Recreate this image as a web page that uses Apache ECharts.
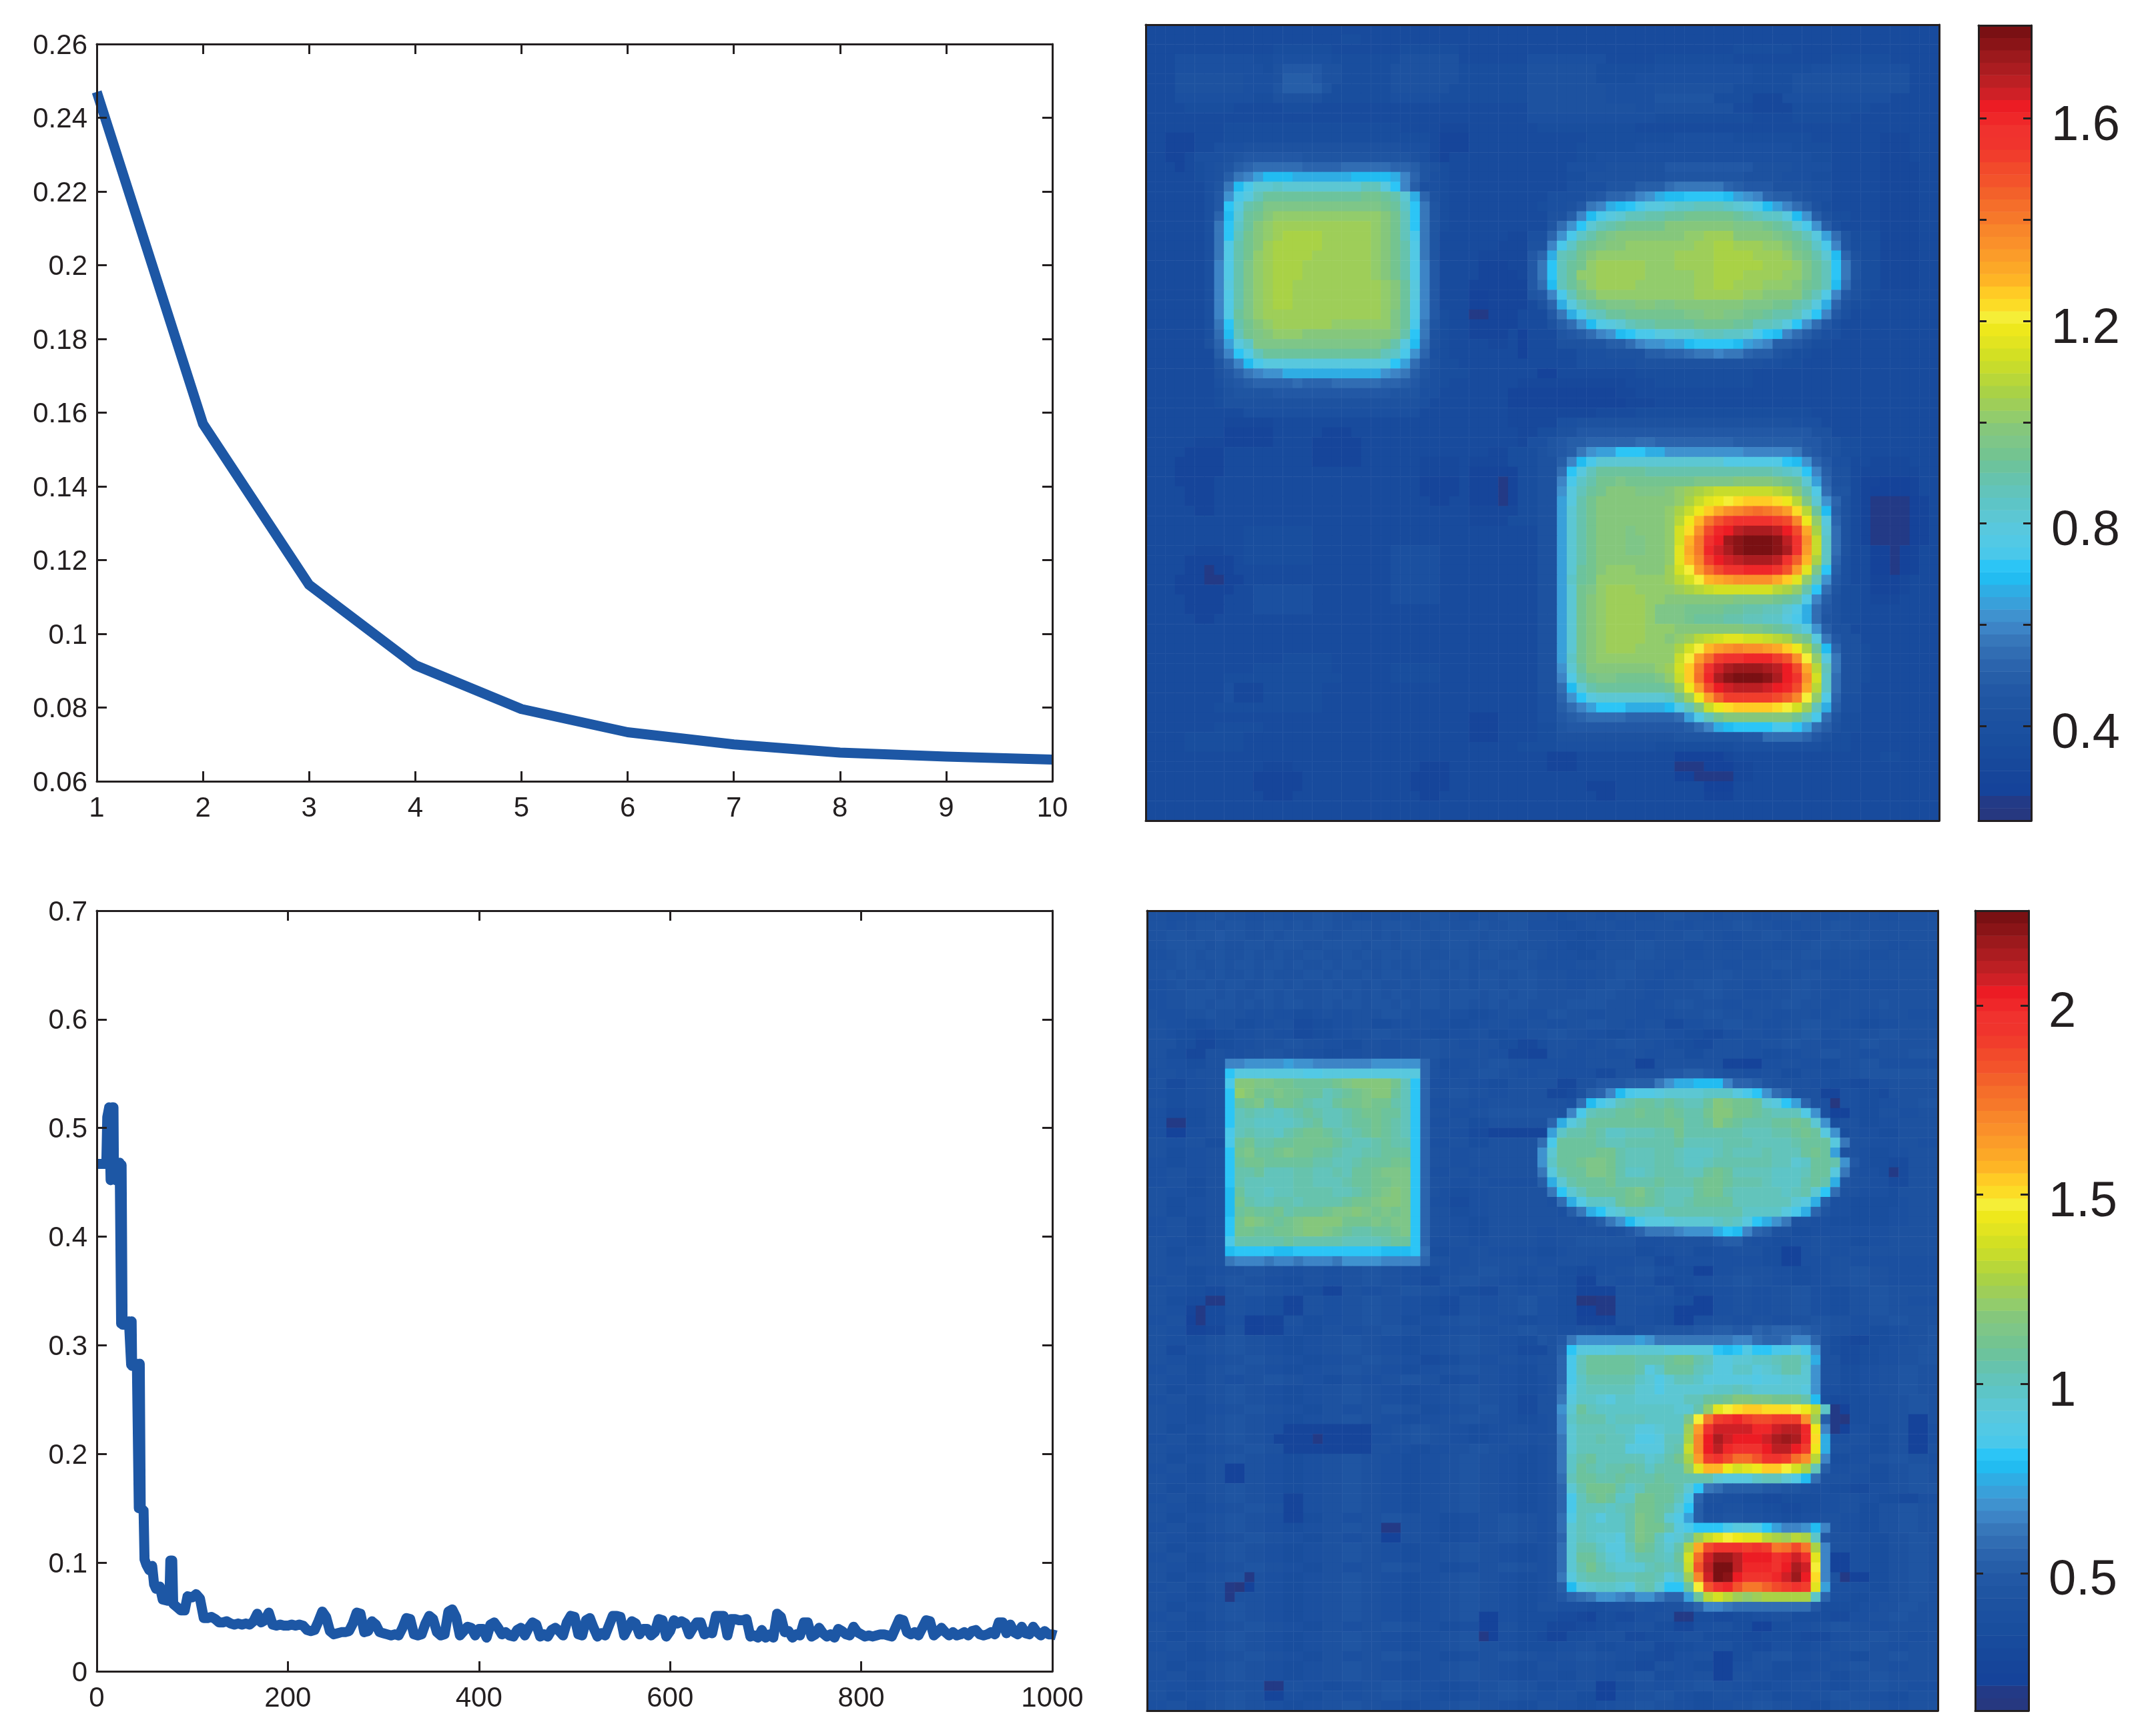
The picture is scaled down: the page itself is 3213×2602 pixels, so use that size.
<!DOCTYPE html>
<html>
<head>
<meta charset="utf-8">
<title>Reconstruction error and recovered maps</title>
<script src="https://cdn.jsdelivr.net/npm/echarts@6/dist/echarts.min.js"></script>
<style>
  html, body { margin: 0; padding: 0; background: #fff; }
  #chart { width: 3213px; height: 2602px; }
</style>
</head>
<body>
<div id="chart"></div>
<script>
// top left curve
const outerX = [1, 2, 3, 4, 5, 6, 7, 8, 9, 10];
const outerY = [0.247, 0.157, 0.1133, 0.0915, 0.0796, 0.0733, 0.07, 0.0678, 0.0667, 0.0659];

// bottom left curve, the first part has uneven steps
const iterHeadX = [0, 10, 11, 13, 14.5, 16, 17.5, 18, 20, 23, 24, 25, 25.5, 26, 27, 30, 33.7, 35, 36, 36.5, 37, 40, 42, 44, 45, 46, 47, 49, 50, 52, 55, 58, 60, 62, 66, 69, 74, 76, 77, 79, 80, 84, 88, 92, 95, 100, 104, 108, 112, 116, 120, 124, 128, 132, 136];
const iterHeadY = [0.467, 0.467, 0.51, 0.519, 0.452, 0.519, 0.519, 0.455, 0.452, 0.46, 0.468, 0.468, 0.32, 0.466, 0.319, 0.319, 0.322, 0.322, 0.282, 0.322, 0.281, 0.283, 0.283, 0.15, 0.283, 0.15, 0.15, 0.148, 0.103, 0.098, 0.093, 0.097, 0.08, 0.076, 0.078, 0.066, 0.065, 0.065, 0.102, 0.102, 0.062, 0.059, 0.056, 0.056, 0.069, 0.068, 0.071, 0.067, 0.049, 0.049, 0.05, 0.048, 0.045, 0.045, 0.046];
// after that one reading every 4 iterations, from 140 to 1000
const iterTailStart = 140;
const iterTailStep = 4;
const iterTailY = [
  0.044, 0.043, 0.044, 0.043, 0.044, 0.043, 0.046, 0.053, 0.045, 0.047, 0.054, 0.043, 0.042, 0.043, 0.042, 0.042,
  0.043, 0.042, 0.043, 0.042, 0.038, 0.037, 0.038, 0.046, 0.055, 0.05, 0.037, 0.034, 0.035, 0.036, 0.036, 0.037,
  0.044, 0.054, 0.053, 0.036, 0.037, 0.046, 0.043, 0.036, 0.035, 0.034, 0.033, 0.034, 0.033, 0.04, 0.049, 0.048,
  0.034, 0.033, 0.034, 0.044, 0.051, 0.048, 0.036, 0.033, 0.034, 0.055, 0.057, 0.05, 0.033, 0.037, 0.041, 0.04,
  0.033, 0.039, 0.039, 0.031, 0.043, 0.045, 0.04, 0.034, 0.036, 0.033, 0.032, 0.038, 0.04, 0.033, 0.04, 0.045,
  0.043, 0.032, 0.034, 0.032, 0.038, 0.04, 0.037, 0.033, 0.045, 0.051, 0.05, 0.034, 0.033, 0.047, 0.049, 0.04,
  0.032, 0.035, 0.033, 0.042, 0.051, 0.051, 0.05, 0.033, 0.04, 0.046, 0.044, 0.034, 0.039, 0.039, 0.033, 0.036,
  0.048, 0.047, 0.032, 0.037, 0.047, 0.044, 0.046, 0.044, 0.034, 0.04, 0.045, 0.045, 0.034, 0.036, 0.035, 0.051,
  0.051, 0.051, 0.033, 0.048, 0.048, 0.047, 0.047, 0.048, 0.032, 0.033, 0.031, 0.038, 0.031, 0.034, 0.031, 0.053,
  0.05, 0.036, 0.037, 0.031, 0.034, 0.033, 0.045, 0.045, 0.032, 0.034, 0.04, 0.035, 0.032, 0.034, 0.031, 0.039,
  0.037, 0.034, 0.033, 0.041, 0.036, 0.034, 0.032, 0.033, 0.032, 0.033, 0.034, 0.034, 0.033, 0.032, 0.04, 0.048,
  0.047, 0.036, 0.034, 0.036, 0.033, 0.04, 0.047, 0.046, 0.033, 0.036, 0.04, 0.036, 0.033, 0.036, 0.033, 0.034,
  0.036, 0.033, 0.037, 0.038, 0.034, 0.033, 0.034, 0.036, 0.034, 0.045, 0.045, 0.035, 0.043, 0.036, 0.034, 0.041,
  0.035, 0.034, 0.041, 0.036, 0.033, 0.037, 0.034, 0.034, 0.033
];

// colour bars
const barTicksA = [0.4, 0.6, 0.8, 1, 1.2, 1.4, 1.6];
const barLabelsA = [0.4, 0.8, 1.2, 1.6];
const barTicksB = [0.5, 1, 1.5, 2];
const barLabelsB = [0.5, 1, 1.5, 2];
const barRangeA = [0.213, 1.784];
const barRangeB = [0.137, 2.25];

// 64 steps of the colour map, lowest first
const palette = [
  '#263880', '#233a86', '#15439a', '#16459a', '#17489b', '#184b9d', '#194e9e', '#1b50a0',
  '#1d52a0', '#1f55a2', '#2258a5', '#265ea8', '#2b64ad', '#316db3', '#3777ba', '#3d84c6',
  '#3f92cf', '#39a0da', '#2fade4', '#22bcf1', '#2cc5f6', '#4ac8ea', '#52c9e5', '#58c8de',
  '#5cc7d3', '#5dc5c7', '#62c4bb', '#66c3ad', '#6cc39d', '#74c490', '#7ec688', '#85c77c',
  '#92cc6c', '#9ece59', '#a9d246', '#b8d739', '#c7dc2c', '#d3e023', '#e2e420', '#eee81c',
  '#f5ee37', '#fcdc26', '#ffcb25', '#feb525', '#fca827', '#fb9c29', '#fa902a', '#f8862a',
  '#f6782a', '#f56e2a', '#f3612a', '#f3532b', '#f24a2b', '#f13d2c', '#f0342d', '#f0322e',
  '#ef2729', '#ec1c24', '#cf2026', '#bc1f23', '#ab1c20', '#9c191c', '#8a1417', '#7a1013'
];
// one letter per colour step
const levelCodes = '0123456789abcdefghijklmnopqrstuvwxyzABCDEFGHIJKLMNOPQRSTUVWXYZ*#';

// maps, 81 x 81 cells, top row first.
// letters are colour steps, "@n " jumps to column n and repeats the last letter up to it
const mapRowsA = [
  '5',
  '5@20 6@22 5',
  '5@13 6@19 5@26 6@32 5@60 6@66 5',
  '5@3 7@11 6@13 7@19 6@26 8@32 5@39 7@47 5@52 6@60 5@70 6@76 5',
  '5@3 7@12 6@13 8@14 a@18 8@20 6@25 8@32 6@39 8@46 6@52 7@62 6@68 7@78 5',
  '5@3 8@10 7@13 8@14 b@17 a@18 8@20 6@25 8@32 6@39 8@46 6@50 7@62 6@66 8@78 5',
  '5@3 8@10 7@13 9@14 b@18 9@19 6@25 8@31 6@39 8@47 7@52 8@60 6@66 8@78 5',
  '5@3 7@11 6@13 8@18 6@25 7@30 6@39 8@47 7@52 9@58 6@62 4@65 7@76 5',
  '5@4 6@9 5@14 6@17 5@39 8@50 7@52 8@60 5@62 4@66 6@74 5',
  '5@39 7@52 6@62 5@66 6@72 5',
  '5@8 6@26 5@30 4@33 5@40 6@50 5',
  '5@2 3@5 5@8 6@29 5@30 3@33 5@45 6@54 7@60 6@68 5@75 4@78 5',
  '5@2 3@5 5@7 7@10 8@26 7@29 5@30 3@33 5@44 6@50 7@66 6@70 5@75 4@78 5',
  '5@2 3@4 5@5 7@8 8@9 9@10 a@16 9@27 8@28 7@29 5@30 3@31 5@44 6@46 7@68 6@70 5@75 4@78 5',
  '5@3 3@4 5@5 6@6 789bc@11 d@16 c@20 d@25 c@27 b986@31 5@43 7@47 8@53 a@62 8@66 7@70 5@75 4@79 5',
  '5@5 678befh@12 j@15 i@21 j@25 ifc97@30 6@31 5@43 6@45 8@53 9@61 8@65 7@68 6@70 5@75 4@79 5',
  '5@6 79ejlo@13 p@14 o@22 q@24 nkfb7@30 6@31 5@43 7@47 9@50 b@53 de@59 cb@61 a@64 8@68 7@70 5@75 4@79 5',
  '5@6 7aglnq@12 s@22 t@24 sroic86@31 5@41 7@45 9accdfgi@53 j@55 k@59 jhgfc@64 b@66 98@68 7@70 5@75 4@79 5',
  '5@6 7aknrs@12 u@24 tspke96@31 5@40 6@41 7@43 8aefijkl@51 n@53 o@54 p@56 q@59 ponljhfdb86@70 5@75 4@79 5',
  '5@6 7cjostv@13 w@24 vtqke9@30 6@31 5@41 88bfjlno@49 q@51 r@53 s@55 t@60 srq@63 p@65 njgb8@70 6@72 5@75 4@79 5',
  '5@6 7ekpsvw@13 x@23 wvtqke9@30 6@31 5@41 9dgkoqrst@53 v@60 u@63 tsrolgb7@71 5@75 4@79 5',
  '5@6 7ekqtvwx@14 y@18 x@23 wvtqle9@30 5@37 4@39 7@41 cglprtu@48 v@55 w@57 x@60 v@64 utsqnhd9@72 6@75 4@79 5',
  '5@6 7emrtvx@13 y@18 x@23 wvtrme9@30 5@36 4@39 8@41 flpstu@47 v@49 w@56 x@58 y@60 x@63 w@65 vtsplf9@72 6@75 4@79 5',
  '5@6 7emrtwx@13 y@17 x@23 wvtrme9@30 5@34 4@39 a@40 ciqrtv@46 w@54 x@58 y@62 x@65 wutrojc8@73 6@75 4@79 5',
  '5@6 7fmruwx@13 y@16 x@23 wvtrmfa@30 5@34 3@37 4@39 a@40 ekqstw@46 x@51 w@54 x@58 y@63 x@66 wusqke9@73 6@75 4@79 5',
  '5@6 7fmruwx@13 y@16 x@23 wvtrmfa@30 5@34 3@38 4@39 a@40 ekqsww@46 x@51 w@56 x@58 y@61 x@65 wwusqke9@73 6@75 4@79 5',
  '5@6 7fnruwx@13 y@15 x@24 wvsnfa@30 5@33 3@39 a@40 djqsuw@46 x@50 w@56 x@58 y@60 x@63 w@66 vtsqjd8@73 6@75 4@79 5',
  '5@6 7fmruwx@13 y@15 x@24 wvsnfa@30 5@33 2@35 3@39 9@40 aflqtuw@56 x@61 w@63 v@67 sqmfa8@73 6@74 5',
  '5@6 7fmruwx@13 y@15 x@24 wvsmfa@30 5@33 2@35 3@39 5@40 8cinqst@47 u@50 v@52 u@54 v@61 u@64 t@66 rqnic8@72 6@74 5',
  '5@6 7fmsuw@12 x@24 wusmfa@30 6@31 5@33 1@35 3@38 5@41 aeilpqs@49 t@55 u@57 v@59 u@61 t@63 s@64 r@66 qnkfa7@72 5',
  '5@6 7ekrtvw@13 x@19 w@25 usle9@30 6@31 5@33 3@38 5@41 8bdgjmno@49 q@50 r@52 s@56 t@60 s@62 q@64 pnkgda@70 7@71 5',
  '5@6 7djqtuv@13 w@16 v@25 urke8@30 6@31 5@33 3@37 5@38 2@39 5@42 9abdfgjk@50 l@52 n@54 o@56 p@57 q@59 p@61 olkjfdb9@69 7@71 5',
  '5@6 8chnp@11 u@24 trnjd8@30 6@31 5@35 4@37 5@38 2@39 5@42 8@45 9@47 bbdfgg@53 h@55 j@56 k@60 jhgf@64 b@66 a8@68 6@70 5',
  '5@7 bfkmq@12 s@24 qplgc7@30 6@31 5@38 2@39 5@44 7@47 8@51 b@53 c@55 d@56 e@58 f@59 e@61 c@62 b@64 98@66 6@68 5',
  '5@7 9cfjl@12 n@25 khda8@30 6@32 5@44 7@50 8@63 7@65 6@67 5',
  '5@7 8acef@12 g@14 i@24 gfeb97@30 6@33 5@40 2@42 5@50 6@62 5',
  '5@7 79ab@11 c@15 d@16 c@19 d@24 c@26 ba87@30 6@31 5@38 4@49 5@52 6@62 5',
  '5@7 68@9 9@13 a@25 9@28 7@30 5@37 3@48 4@50 5',
  '5@7 6@8 8@28 7@29 5@37 3@49 4@52 5',
  '5@10 7@28 5@37 4@46 5@50 6@68 5',
  '5@8 4@13 5@37 4@42 7@44 8@66 7@69 5',
  '5@8 3@13 5@18 3@21 5@38 4@40 6@42 8@44 a@68 8@70 5',
  '5@5 4@8 3@13 5@17 3@22 5@38 4@39 7@41 9@42 a@43 b@45 c@50 d@52 c@60 b@67 a@69 8@71 6@73 5',
  '5@4 3@8 5@17 3@22 5@35 4@37 6@40 8@41 9@42 a@43 b@44 e@45 g@46 h@48 k@51 i@53 g@61 f@66 e@67 b@68 a@69 8@71 6@73 5',
  '5@3 3@8 5@17 3@22 5@28 4@32 5@33 4@37 6@40 8@42 bfjl@46 o@59 m@65 k@66 jgca@70 7@72 5@74 4@78 5',
  '5@3 3@8 5@28 4@32 5@33 3@38 6@40 8@42 dknq@46 s@51 r@64 qpokfb@70 8@72 5@73 4@79 5',
  '5@3 3@7 5@28 3@32 5@33 3@36 1@37 3@38 6@40 8@42 flpr@46 t@48 u@49 t@56 u@60 v@64 utsohc@70 8@72 5@73 3@75 2@78 3@79 5',
  '5@4 3@7 5@28 3@32 5@33 3@36 1@37 3@38 6@40 8@42 gnqs@46 t@47 v@50 u@53 vwxyz@58 A@64 zyvrmd@70 9@72 5@73 3@74 2@78 3@79 5',
  '5@4 3@7 5@29 3@31 5@33 3@36 1@37 3@38 6@40 8@42 hnrt@46 v@54 wyACDEF@61 G@64 FDzuogc@71 8@72 5@73 3@74 1@78 2@79 3@80 5',
  '5@5 3@7 5@33 4@38 6@40 8@42 hort@46 v@53 wyADGIKLMNMLJFzsjb@71 8@72 5@73 3@74 1@78 2@79 3@80 5',
  '5@33 4@37 6@40 8@42 hort@46 v@53 wzDHMPR@60 T@64 RQLDwnc@71 8@72 5@73 3@74 1@78 2@79 3@80 5',
  '5@10 6@17 5@40 8@42 hort@46 v@49 u@50 v@53 wBFKQUVX@61 Y@64 XVQIyod@71 8@72 5@73 3@74 1@78 2@79 3@80 5',
  '5@10 6@17 5@40 8@42 hort@46 v@49 u@51 v@53 wBHMTVZ*@61 #@64 *XTKApd@71 8@72 5@73 3@74 1@78 2@79 3@80 5',
  '5@5 4@8 5@10 6@17 5@25 7@30 5@40 8@42 hort@46 v@49 u@51 v@53 wCIMUWY*@61 #@64 *YTJApd@71 8@72 5@74 2@76 1@77 2@78 3@79 5',
  '5@4 3@9 5@10 6@17 5@25 7@30 5@40 8@42 hort@46 v@53 wCHLRVWX@61 Y@64 XTOHypc@71 7@72 5@74 2@76 1@77 2@78 3@79 5',
  '5@4 3@6 1@7 3@9 5@25 7@30 5@40 8@42 host@46 v@47 w@50 v@53 xBEJNQST@61 U@64 SPJCukb@71 7@72 5@74 2@76 1@77 2@78 3@79 5',
  '5@3 3@6 1@8 3@10 5@25 7@30 5@40 8@42 hpst@46 w@53 xzBEHIJK@64 IGCwqga@71 7@72 5@74 3@77 4@78 5',
  '5@3 3@9 5@11 7@17 5@25 7@30 5@40 8@42 hotu@46 w@47 x@50 w@53 wxyzA@58 B@64 zywrkd9@71 6@73 5@74 3@77 4@78 5',
  '5@4 3@8 5@11 7@17 5@25 7@30 5@40 8@42 hotv@46 w@47 x@51 w@53 v@60 u@64 tsrmfb@70 8@71 6@73 5@74 4@77 5',
  '5@4 3@8 5@11 7@17 5@40 8@42 hotv@46 w@47 x@51 w@52 u@55 t@59 s@61 r@63 q@65 omida@70 8@71 6@73 5',
  '5@5 3@7 5@40 8@42 hotv@46 w@47 x@51 w@52 u@55 t@56 s@59 r@61 q@63 p@65 nlid9@70 8@71 6@73 5',
  '5@40 8@42 hotv@46 w@47 x@51 w@54 v@61 u@63 tsrpngb@70 8@72 5',
  '5@40 8@42 hotv@46 w@47 x@51 w@53 vwxzABCCBBAzyvtnea@71 8@73 5',
  '5@40 8@42 hotv@46 w@47 x@50 w@54 yBEHJKLKKJIGDysjc@71 8@73 6@74 5',
  '5@14 6@19 5@40 8@42 hptv@46 w@54 AEJNRT@61 U@64 RPKEwne@71 8@73 6@74 5',
  '5@11 6@19 5@25 6@30 5@40 8@42 gosv@52 w@53 xBGMTWY@60 Z@63 YXVQIzqe@71 8@73 6@74 5',
  '5@8 6@20 5@25 6@30 5@40 8@42 fmrt@46 u@48 t@52 uwAGNUY*@60 #@63 *YVSKBpd@71 8@73 6@74 5',
  '5@8 7@9 4@12 6@18 5@40 8@42 djor@46 s@53 txDJQVW@60 X@63 WVUQIzpd@71 8@73 5',
  '5@8 7@9 4@12 6@18 5@40 7@42 cgkn@46 o@53 ptxDJO@59 R@64 QOLEwmc@71 7@73 5',
  '5@7 6@18 5@40 7@42 bdfh@46 k@49 i@53 jmqvADF@60 G@64 FEBxqib@71 7@73 5',
  '5@33 3@36 5@40 7@42 abc@45 d@49 c@54 dhmqt@59 v@66 tqld9@71 6@73 5',
  '5@7 6@12 5@33 3@36 5@40 6@42 9@43 a@54 abdfij@60 k@64 l@66 khdb8@71 6@73 5',
  '5@4 6@10 5@33 3@36 5@40 6@42 8@54 9@61 a@63 d@67 ca8@70 6@72 5',
  '5@4 6@10 5@38 6@42 7@52 6@60 7@69 6@72 5',
  '5@41 3@44 5@54 2@59 4@60 5@75 6@77 5',
  '5@12 4@15 5@28 3@31 5@41 3@44 5@54 1@57 2@60 4@62 5',
  '5@11 3@16 5@27 3@31 5@54 2@56 1@60 4@62 5',
  '5@11 3@16 5@27 3@31 5@45 3@48 5@57 2@60 5',
  '5@12 3@15 5@28 3@30 5@46 3@48 5@57 3@60 5',
  '5',
  '5'
];

const mapRowsB = [
  '8877788988778878899887788788998877889998877888778877899887788877889887788887788',
  '8878899899889989899889989998899889988997776678887788887788889988777888998888888',
  '8899899a99889899998899989899989999899998887766778877888998877889988779988988888',
  '8899998988998999889999899899989998899988877667788899888778877888778899899988778',
  '7789989988988988998898989989888998998899877766888899888778888778888998888777888',
  '8889988989989989889899889889899898889998777788889988877888877888998877788888888',
  '8898998988989888998988989988988998998899888777889988778888998888788998877788888',
  '7789889899889989889899898898998898998999888778899887788899988778889988778777788',
  '7788999898899898889989898988998999899899888889998887788889988777889988778888888',
  '7788998998989899889899899898998998898998888999988877889988877888899887788889888',
  '8777889888778776678778889988778776678887799887788877778889988788778877888778887',
  '8877667886677885566778866778877667788778877889988778855778899887788998877667788',
  '8876655667788775566778899887766778866778899887766778877665577887788997788889988',
  '8886644667788899887766887788998877886644688877889988776655888778899887788998888',
  '8866448877889988776677887788998888877443388778877887788668888776677889988778889',
  '88776688@8 ffgggghggffffffgggggf@28 c867788998877@43 7788@50 33@52 8888@59 3322@63 77887766889977',
  '7887788@8 knnnnnnnmmnnnnnnnnnnk@28 c8778899887@40 8877@46 55@48 88@53 aabba9@59 8877886688778899',
  '8855778@8 lvvuuttsssstuvvvvtqk@28 c7788776688@42 4488aaabbbegiijjjfccb9@64 8888776655778888',
  '7766778@8 kwvttuttssqrstuvvsqk@28 c889988778@41 4458bcfjlmmnoooopppnlkgdc8@67 88@69 33@71 7766588888',
  '8866778@8 ksturttsrqqsttuttrqk@28 c77887788@43 7djlnqrssrsrqqsvuttsonkhc8@69 7@70 0@71 7766@75 7788998',
  '7755668@8 kqrqqpqrsrqqrsttssqk@28 c88778899@42 8flqrrsstsstsrrtvvttsrqqqmg7@70 22@72 766@75 8877888',
  '7711668@8 kqqppppqrsqqrsstsrqk@28 c77886688@41 cinpssssssssttrrsvtsrrrsstsog6@71 8866@75 7788888',
  '7722778@8 lqrqqprsttsrqrstsrqk@28 c88775533@41 hprrsrppqqqrrtrrrrrrqqqrrstsng6@72 877@75 668888',
  '8877886@8 lstrrssttttsrqqrsrrk@28 c7788668@40 dlssssrqqrrrrrsqqqqrrrqqqqrsssne@72 8877@75 77887',
  '8866778@8 ktusstuttssrqqrrsssk@28 c88778@37 88@40 gossssttrqqqrrqpppqrqqqrqqqstsh@71 8@72 8766@76 7788',
  '7766778@8 ksttsssssrrqqrsssttk@28 c887788@38 88@40 gpsstuutrqqqrrqppqrrrrrrqqopssrg@72 a766@76 5588',
  '7788778@8 krrsqqqrrqqrqsstuuuk@28 c77887788@40 enrssuutrppqrrrqqstsqqqqpppqssne@72 8776@76 1588',
  '7788668@8 krqqqqqrrqqqrssttuuk@28 c8877887@40 biorssstrrrrsrrrsttsrrrqppprsri9@72 8877@76 5588',
  '8877668@8 jsqqpqqrrrrqqrstuvuk@28 c8766778@41 ekoqsssstusrqqqsttrqqqqqpqrokd@71 8877@76 6888',
  '8866778@8 jtrqqrrqrrrrsttuvvuk@28 c7755778@41 7dimpppsttsrqqrssssqqqqqqonib@70 7766@76 6788',
  '8866778@8 jstsstrssstuuvututuk@28 c8866778@42 7beiknoqqpprrrrrrrrppppnlic@69 97766@76 7788',
  '7788668@8 ktvutstuvvvvtttutuuk@28 c8877668@44 79begjlnnnoooopqpnkige8@67 87766@76 7788',
  '7788668@8 kttssttuvvutsrrsstuk@28 c8877668@40 7788@47 78aceeefgggikjfcb8@65 86677@74 778888',
  '8877668@8 lrrrrrsrrrrrqqqqrssk@28 c7788778@40 77889@50 777@53 88888@58 abb8@62 7766778877667788888',
  '8866778@8 jkkkkjjkkkkkkkkkjjjk@28 d6677887@40 66788@50 667788@56 66778@61 8866227887788',
  '8877888@8 efffeffefffeggggffff@28 c8877888@40 7788877@50 88@52 5577@60 7776622777887',
  '8877667788998877887788998877667788998877886655778899776622778888776677889988777',
  '7788668899887766887788998877558899887766776633887788556677889988776677889988777',
  '8877665588998877663388778899887766558877886633338877885566778877889977668899888',
  '8866551188776633887788998877665588778899776600118888776622778877889977668899887',
  '8877315588776633887788998877665588778899776622118877662222778877889977668899888',
  '7788215577223388667788998866778899887766776633338877662277887788778899887788998',
  '8877334488223377668877889988667788778899887788776688999@55 9aabbaacbcccba9887766778899',
  '8877668899887766778899887766778899887766@40 98@42 aegggggghgeeeeeeeeffdccdffc8@69 8654466778899',
  '8855778899887766778899887766778899887755@40 58bknnnnooooonnnnnkjkmkkllnlg@69 8655667788998',
  '8877667788998877667788998877556688778877@40 88clqsssssrrrsttrqnnooppqrrpi@69 8855667788998',
  '7788668899887766778899887766778899887766@40 88clqsssssrnpsssqpnnppnoprrog@69 8866778899888',
  '8877668877889988776688778899886677887766@40 78clprrrrrpomoqqpnnnnnmnnooog@69 8866778899887',
  '8866778899887766778899887766778899887766@40 78dmpqqqqqoomoooooppqpooooong@69 7766778899888',
  '7788668899887766778899887766778899887755@40 88enpponppoooooqqsstvvuutttrj6@70 5566778899888',
  '8877667788998877668877889988667788997755@40 88gosqppppppppoorwCEFGGFFFEDzpa@70 1266778899888',
  '8877668899887766778899887766778899887766@40 78fprrrpqqqppppuEMRSURQQRRRKxb@70 1066778822888',
  '8866778899887733333333377889988776677887@40 78foqqqqppnnoppxJTWWWWUUWXXUDf@70 1277668822778',
  '7788668899887333313333377889988776677887@40 88eoqqrqqpmmnqqyLVYWVVVWYZYUFi@70 7788668822778',
  '8877667788998833333333388776677889988776@40 78eoqqqqqnnnnqrALVXUTTTVXXVRDi@70 8877668822887',
  '8866778899887766778899887766778899887766@40 78eprsqqqqqoprtyJRTQNNPSTRNKzf@70 6677889988778',
  '7788668822887766778899887766778899887766@40 78epsrqrrsrprrrwCHHDBCDGGEByqb@70 7788668899888',
  '8877668822887766778899887766778899887766@40 78dqssrrsrrrsrrrrronnnpqqomjd8@70 8877668899888',
  '8866778899887766778899887766778899887766@40 78cortttrpqsssr@55 okedbbbbaa999@67 8776655778899',
  '7788668899887733778899887766778899887766@40 78clqsts@48 ppttssqlc8877665566@69 7788776655778',
  '8877667788998833778899887766778899887766@40 78clqqqpqrttsrokb7788776655667@69 7788668899888',
  '8866778899887733668877889988776677889988@40 78dmqpnpprutsomhb8899887766778@69 8877668899888',
  '7788668899887766778899881188776677889988@40 78doqppppruttrnlkkklnnmkhffgjf8@70 877668899888',
  '8877667788998877668877882288776677889988@40 78coqpoonrutqnorxACEDCCzyxzyp@69 a8877668899888',
  '8866778899887766778899887766778899887766@40 78dorrpnnqtsqoryIQSSTRSRMNQMyf@70 8877668899888',
  '7788668899887766778899887766778899887766@40 78dossqonprrqpsBNWZZXVVVTUWTCf@70 2277668899888',
  '8877667788998877668877889988776677889988@40 78dortrpoooqrqrAPX##XUUUTVYWEf@70 2277668899888',
  '8866778899187766778899887766778899887766@40 78enqrrrqqrrqnpxLW#*VSSSUWZVFf@70 8122668899888',
  '7788668810287766778899887766778899887766@40 78bjnopponqrokksEPTUPMMOQRTRCh@70 7777668899888',
  '8877667818887766778899887766778899887766@40 78acdeggfeggecchszBzxwxyyyyyp@69 c7766778899888',
  '8866778899887766778899887766778899887766@40 8877766778877889@55 acffedddddddda6@70 66677889988',
  '7788668899887766778899887766778899227766@40 6655436655778811665566778866@68 6655778899888',
  '8877667788998877668877889988776677228866@40 6444556677886644778866226112@64 66778899887788',
  '8866778899887766778899887766778899127766@40 5336677885566778866665566665@68 5577889988778',
  '7788668899887766778899887766778899887766@40 66778866778855667788665577@66 6677889988778',
  '8877667788998877668877889988776677889988@40 77889988776655778822668899@66 7788776688998',
  '8866778899887766778899887766778899887766@40 88778877665588776622778866@66 6677889988778',
  '7788668899887766778899887766778899887766@40 77668877889966778822887766@66 7788668899888',
  '8877667788881188776677889988776677889988@40 66778822668877889988776677@66 8877668899887',
  '8866778899883377668877889988776677889988@40 77886622778899776688778866@66 7788998877668',
  '7788668899887766778899887766778899887766@40 88776677889988776677889988@66 7766889988778'
];

// one row of the map as a list of colour steps
function decodeRow(text) {
  const parts = text.split('@');
  let row = parts[0];
  for (let i = 1; i < parts.length; i++) {
    const gap = parts[i].indexOf(' ');
    const col = Number(parts[i].slice(0, gap));
    row = row.length < col ? row.padEnd(col, row[row.length - 1]) : row.slice(0, col);
    row += parts[i].slice(gap + 1);
  }
  row = row.padEnd(81, row[row.length - 1]).slice(0, 81);
  return row.split('').map(ch => levelCodes.indexOf(ch));
}

function levelValue(level, range) {
  return range[0] + level / 63 * (range[1] - range[0]);
}

function mapData(rows, range) {
  const data = [];
  rows.forEach((text, r) => {
    decodeRow(text).forEach((level, c) => data.push([c, r, levelValue(level, range)]));
  });
  return data;
}

const ink = '#231f20';
const fontFamily = '"Liberation Sans", Arial, sans-serif';
const grids = [];
const xAxes = [];
const yAxes = [];
const series = [];
const visualMaps = [];

function addGrid(rect) {
  grids.push({ left: rect[0], top: rect[1], width: rect[2] - rect[0], height: rect[3] - rect[1] });
  return grids.length - 1;
}

// axis with inward ticks, labels only when asked.
// labelShift moves the text down from the tick, the reference sits a bit low
function valueAxis(gridIndex, position, range, opts) {
  const o = opts || {};
  const shift = o.labelShift || 0;
  return {
    type: 'value', gridIndex, position, z: 5,
    min: range[0], max: range[1], interval: o.interval,
    splitLine: { show: false },
    axisLine: { show: true, onZero: false, lineStyle: { color: ink, width: o.lineWidth || 3 } },
    axisTick: {
      show: !!(o.interval || o.ticks), inside: true, length: o.tickLength || 15,
      customValues: o.ticks,
      lineStyle: { color: ink, width: 3 }
    },
    axisLabel: {
      show: !!o.fontSize, fontSize: o.fontSize, color: ink, fontFamily,
      margin: o.margin, customValues: o.labels,
      formatter: v => `{t|${v}}`,
      rich: { t: { fontSize: o.fontSize, color: ink, fontFamily, padding: [shift * 2, 0, 0, 0] } }
    }
  };
}

function addLinePlot(rect, xRange, xStep, yRange, yStep, points) {
  const g = addGrid(rect);
  xAxes.push(valueAxis(g, 'bottom', xRange, { interval: xStep, fontSize: 42, margin: 20 }));
  xAxes.push(valueAxis(g, 'top', xRange, { interval: xStep }));
  yAxes.push(valueAxis(g, 'left', yRange, { interval: yStep, fontSize: 42, margin: 14, labelShift: 3 }));
  yAxes.push(valueAxis(g, 'right', yRange, { interval: yStep }));
  series.push({
    type: 'line', data: points, showSymbol: false, symbol: 'none', z: 2,
    xAxisIndex: xAxes.length - 2, yAxisIndex: yAxes.length - 2,
    lineStyle: { color: '#1d57a5', width: 15, join: 'round', cap: 'butt' }
  });
}

// plain frame drawn over a heatmap, and the ticks of a colour bar
function addFrame(rect, yOpts) {
  const g = addGrid(rect);
  const o = yOpts || {};
  xAxes.push(valueAxis(g, 'bottom', [0, 1]));
  xAxes.push(valueAxis(g, 'top', [0, 1]));
  yAxes.push(valueAxis(g, 'left', o.range || [0, 1], { ticks: o.ticks, tickLength: 12 }));
  yAxes.push(valueAxis(g, 'right', o.range || [0, 1], {
    ticks: o.ticks, tickLength: 12, labels: o.labels, fontSize: o.labels ? 74 : 0, margin: 30,
    labelShift: 12
  }));
}

function addHeat(rect, rowCount, colCount, data, inverse) {
  const g = addGrid(rect);
  xAxes.push({ type: 'category', gridIndex: g, show: false, data: Array.from({ length: colCount }, (_, i) => i) });
  yAxes.push({ type: 'category', gridIndex: g, show: false, inverse, data: Array.from({ length: rowCount }, (_, i) => i) });
  series.push({
    type: 'heatmap', data, progressive: 0, z: 2,
    xAxisIndex: xAxes.length - 1, yAxisIndex: yAxes.length - 1,
    itemStyle: { borderWidth: 0 }
  });
  return series.length - 1;
}

function addMapPanel(mapRect, barRect, rows, range, ticks, labels) {
  const mapIndex = addHeat(mapRect, 81, 81, mapData(rows, range), true);
  addFrame(mapRect);
  const barData = palette.map((_, level) => [0, level, levelValue(level, range)]);
  const barIndex = addHeat(barRect, 64, 1, barData, false);
  addFrame(barRect, { range, ticks, labels });
  visualMaps.push({
    show: false, type: 'continuous', seriesIndex: [mapIndex, barIndex], dimension: 2,
    min: range[0], max: range[1], inRange: { color: palette }
  });
}

const iterPoints = iterHeadX.map((x, i) => [x, iterHeadY[i]]);
iterTailY.forEach((y, i) => iterPoints.push([iterTailStart + i * iterTailStep, y]));

addLinePlot([145, 66, 1577, 1171], [1, 10], 1, [0.06, 0.26], 0.02, outerX.map((x, i) => [x, outerY[i]]));
addMapPanel([1717, 37, 2906, 1230], [2965, 38, 3044, 1230], mapRowsA, barRangeA, barTicksA, barLabelsA);
addLinePlot([145, 1365, 1577, 2505], [0, 1000], 200, [0, 0.7], 0.1, iterPoints);
addMapPanel([1719, 1365, 2904, 2564], [2960, 1365, 3040, 2564], mapRowsB, barRangeB, barTicksB, barLabelsB);

const chart = echarts.init(document.getElementById('chart'));
chart.setOption({
  animation: false,
  backgroundColor: '#ffffff',
  textStyle: { fontFamily },
  grid: grids,
  xAxis: xAxes,
  yAxis: yAxes,
  visualMap: visualMaps,
  series
});
</script>
</body>
</html>
